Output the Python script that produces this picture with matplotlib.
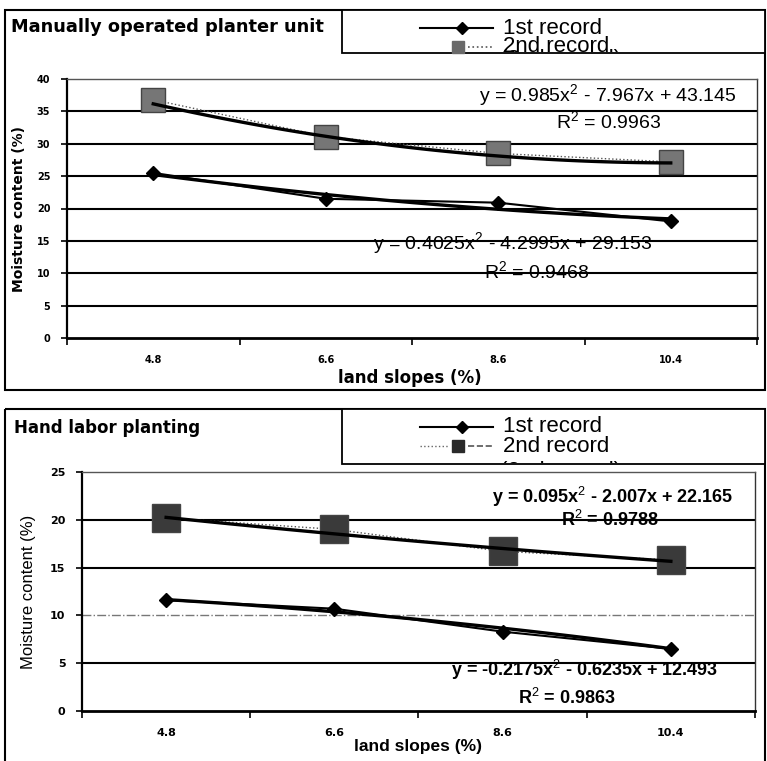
import numpy as np
import matplotlib.pyplot as plt
from matplotlib.patches import Rectangle
from matplotlib.lines import Line2D
from matplotlib.transforms import Affine2D, Bbox, TransformedBbox

slopes = ['4.8', '6.6', '8.6', '10.4']

# Manually operated planter unit
planter_1st = [25.5, 21.5, 20.9, 18.0]
planter_2nd = [36.8, 31.1, 28.5, 27.2]
planter_fit_1st = [0.4025, -4.2995, 29.153]
planter_fit_2nd = [0.985, -7.967, 43.145]
planter_eq_1st = ['y = 0.4025x$^2$ - 4.2995x + 29.153', 'R$^2$ = 0.9468']
planter_eq_2nd = ['y = 0.985x$^2$ - 7.967x + 43.145', 'R$^2$ = 0.9963']
planter_yticks = [0, 5, 10, 15, 20, 25, 30, 35, 40]

# Hand labor planting
hand_1st = [11.6, 10.7, 8.3, 6.5]
hand_2nd = [20.2, 19.0, 16.7, 15.8]
hand_fit_1st = [-0.2175, -0.6235, 12.493]
hand_fit_2nd = [0.095, -2.007, 22.165]
hand_eq_1st = ['y = -0.2175x$^2$ - 0.6235x + 12.493', 'R$^2$ = 0.9863']
hand_eq_2nd = ['y = 0.095x$^2$ - 2.007x + 22.165', 'R$^2$ = 0.9788']
hand_yticks = [0, 5, 10, 15, 20, 25]

ARIAL = 'Liberation Sans'
plt.rcParams['mathtext.fontset'] = 'custom'
plt.rcParams['mathtext.rm'] = ARIAL
plt.rcParams['mathtext.bf'] = ARIAL + ':bold'
plt.rcParams['mathtext.default'] = 'rm'

W, H = 767, 761
fig = plt.figure(figsize=(W / 100, H / 100), dpi=100)
pxt = Affine2D().scale(1 / W, -1 / H).translate(0, 1) + fig.transFigure


def rect(x0, y0, x1, y1):
    return [x0 / W, 1 - y1 / H, (x1 - x0) / W, (y1 - y0) / H]


def frame(x0, y0, x1, y1, lw=1.5, fill=False):
    r = Rectangle((x0, y0), x1 - x0, y1 - y0, transform=pxt, fill=fill,
                  facecolor='white', edgecolor='black', lw=lw)
    fig.add_artist(r)
    return r


def legend(y0, y1, sq_color, left_dots, right_dash):
    frame(342, y0, 765, y1, lw=1.3, fill=True)
    r1 = y0 + 18
    r2 = y0 + 37
    fig.add_artist(Line2D([420, 493], [r1, r1], transform=pxt, color='black', lw=1.5))
    fig.add_artist(Line2D([462], [r1], transform=pxt, marker='D', ms=6, color='black'))
    fig.text(503, r1, '1st record', transform=pxt, fontsize=16, family=ARIAL, va='center')
    if left_dots:
        fig.add_artist(Line2D([420, 448], [r2, r2], transform=pxt, color='#666666', lw=1, ls=':'))
    fig.add_artist(Line2D([468, 494], [r2, r2], transform=pxt, color='#555555', lw=1.2, ls=right_dash))
    fig.add_artist(Line2D([458], [r2], transform=pxt, marker='s', ms=8, color=sq_color))
    fig.text(503, r2, '2nd record', transform=pxt, fontsize=16, family=ARIAL, va='center')
    # third legend row is cut off by the box edge
    clip = TransformedBbox(Bbox.from_extents(342 / W, 1 - (y1 - 1) / H, 765 / W, 1 - y0 / H),
                           fig.transFigure)
    t = fig.text(500, y1 + 7, '(2nd record)', transform=pxt, fontsize=16, family=ARIAL,
                 va='center')
    t.set_clip_box(clip)
    t.set_clip_on(True)


def panel(ax, first, second, fit1, fit2, yticks, sq_color, sq_size, label_size):
    x = np.arange(len(slopes))
    xs = np.linspace(1, 4, 80)
    ax.plot(x, first, color='black', lw=1.5, marker='D', ms=7, zorder=4)
    ax.plot(xs - 1, np.polyval(fit1, xs), color='black', lw=2.4, zorder=3)
    ax.plot(x, second, color='#555555', lw=1, ls=':', marker='s', ms=sq_size,
            mfc=sq_color, mec='#444444', zorder=3)
    ax.plot(xs - 1, np.polyval(fit2, xs), color='black', lw=2.4, zorder=4)
    ax.set_xlim(-0.5, len(slopes) - 0.5)
    ax.set_ylim(yticks[0], yticks[-1])
    ax.set_yticks(yticks)
    ax.set_xticks(np.arange(len(slopes) + 1) - 0.5)
    ax.set_xticklabels([])
    ax.set_xticks(x, minor=True)
    ax.set_xticklabels(slopes, minor=True)
    ax.tick_params(axis='x', which='major', direction='out', length=5, width=1.2)
    ax.tick_params(axis='x', which='minor', length=0, pad=12, labelsize=label_size)
    ax.tick_params(axis='y', direction='out', length=4, width=1.2, pad=8, labelsize=label_size)
    for lab in ax.get_xticklabels(minor=True) + ax.get_yticklabels():
        lab.set_fontweight('bold')
    ax.spines['left'].set_linewidth(1.6)
    ax.spines['bottom'].set_linewidth(2)
    ax.spines['right'].set_linewidth(1)
    ax.spines['right'].set_color('#333333')
    ax.spines['top'].set_linewidth(1)
    ax.spines['top'].set_color('#555555')


# ---------------- top panel ----------------
frame(5, 10, 765, 390)
fig.text(11, 27, 'Manually operated planter unit', transform=pxt, fontsize=12.8,
         weight='bold', va='center')
legend(10, 53, '#6a6a6a', False, ':')

ax1 = fig.add_axes(rect(67, 79, 757, 338))
panel(ax1, planter_1st, planter_2nd, planter_fit_1st, planter_fit_2nd,
      planter_yticks, '#767676', 17, 7)
for v in planter_yticks[1:-1]:
    ax1.axhline(v, color='black', lw=1.5, zorder=1)
ax1.set_ylabel('Moisture content (%)', fontsize=10, weight='bold', labelpad=8)
fig.text(410, 378, 'land slopes (%)', transform=pxt, fontsize=12, weight='bold',
         ha='center', va='center')
fig.text(608, 95, planter_eq_2nd[0], transform=pxt, fontsize=14, family=ARIAL,
         ha='center', va='center')
fig.text(609, 121, planter_eq_2nd[1], transform=pxt, fontsize=14, family=ARIAL,
         ha='center', va='center')
fig.text(513, 243, planter_eq_1st[0], transform=pxt, fontsize=14, family=ARIAL,
         ha='center', va='center')
fig.text(537, 271, planter_eq_1st[1], transform=pxt, fontsize=14, family=ARIAL,
         ha='center', va='center')

# ---------------- bottom panel ----------------
frame(5, 409, 765, 775)
fig.text(14, 428, 'Hand labor planting', transform=pxt, fontsize=12,
         weight='bold', va='center')
legend(409, 464, '#2a2a2a', True, '--')

ax2 = fig.add_axes(rect(82, 472, 755, 711))
panel(ax2, hand_1st, hand_2nd, hand_fit_1st, hand_fit_2nd,
      hand_yticks, '#3a3a3a', 20, 8)
for v in hand_yticks[1:-1]:
    if v == 10:
        ax2.axhline(v, color='#777777', lw=1, ls='-.', zorder=1)
    else:
        ax2.axhline(v, color='black', lw=1.5, zorder=1)
ax2.set_ylabel('Moisture content (%)', fontsize=12, family=ARIAL, labelpad=10)
fig.text(418, 747, 'land slopes (%)', transform=pxt, fontsize=12.5, family=ARIAL,
         weight='bold', ha='center', va='center')
fig.text(613, 497, hand_eq_2nd[0], transform=pxt, fontsize=13, family=ARIAL,
         weight='bold', ha='center', va='center')
fig.text(610, 520, hand_eq_2nd[1], transform=pxt, fontsize=13, family=ARIAL,
         weight='bold', ha='center', va='center')
fig.text(585, 670, hand_eq_1st[0], transform=pxt, fontsize=13, family=ARIAL,
         weight='bold', ha='center', va='center')
fig.text(567, 698, hand_eq_1st[1], transform=pxt, fontsize=13, family=ARIAL,
         weight='bold', ha='center', va='center')

fig.savefig('out.png', dpi=100)
